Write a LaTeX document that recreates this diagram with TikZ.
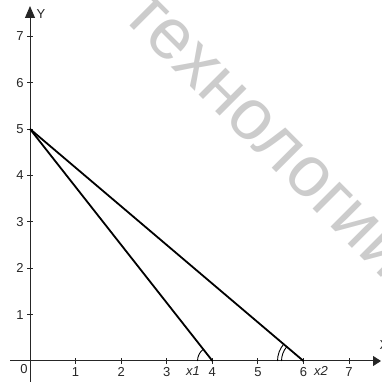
\documentclass[tikz,border=0pt]{standalone}
\usepackage{fontspec}
\setmainfont{Liberation Sans}
\usetikzlibrary{arrows.meta}
\begin{document}
\begin{tikzpicture}[x=1pt,y=1pt,
  axis/.style={line width=1pt,draw=black!85},
  tick/.style={line width=0.9pt,draw=black!85},
  seg/.style={line width=1.8pt,draw=black},
  anglemark/.style={line width=0.9pt,draw=black},
  lbl/.style={font=\fontsize{13}{15}\selectfont,inner sep=0pt,text=black!85},
  wm/.style={font=\fontsize{72}{76}\selectfont,text=black!20,inner sep=0pt,rotate=-45}]
\useasboundingbox (0,0) rectangle (381,382);
% watermark
\node[wm] (wmark) at (266,247) {технологии};
% key points
\coordinate (O) at (30,21);
\coordinate (A) at (30,253);
\coordinate (B1) at (212.5,21);
\coordinate (B2) at (303.5,21);
\coordinate (xs) at (10,21);
\coordinate (xe) at (381,21);
\coordinate (ys) at (30,0);
\coordinate (ye) at (30,376);
% axes
\draw[axis,-{Triangle[length=8pt,width=10pt]}] (xs) -- (xe);
\draw[axis,-{Triangle[length=12pt,width=10pt]}] (ys) -- (ye);
\node[lbl] (ylab) at (41,368) {Y};
\node[lbl] (xlab) at (384,37) {X};
\node[lbl] (zero) at (24,13) {0};
% x ticks
\foreach \k in {1,...,7} {
  \draw[tick] ({30+45.58*\k},18) -- ({30+45.58*\k},24);
  \node[lbl] (xl\k) at ({30+45.58*\k},10) {\k};
}
% y ticks
\foreach \k in {1,...,7} {
  \draw[tick] (27,{21+46.4*\k}) -- (33,{21+46.4*\k});
  \node[lbl] (yl\k) at (20,{21+46.4*\k}) {\k};
}
% segments
\draw[seg] (A) -- (B1);
\draw[seg] (A) -- (B2);
% angle marks
\draw[anglemark] ([shift={(180:15pt)}]B1) arc[start angle=180,end angle=128.25,radius=15pt];
\draw[anglemark] ([shift={(180:22pt)}]B2) arc[start angle=180,end angle=139.76,radius=22pt];
\draw[anglemark] ([shift={(180:26pt)}]B2) arc[start angle=180,end angle=139.76,radius=26pt];
\node[lbl,font=\fontsize{13}{15}\selectfont\itshape] (x1lab) at (193,11) {x1};
\node[lbl,font=\fontsize{13}{15}\selectfont\itshape] (x2lab) at (321,11) {x2};
\end{tikzpicture}
\end{document}
